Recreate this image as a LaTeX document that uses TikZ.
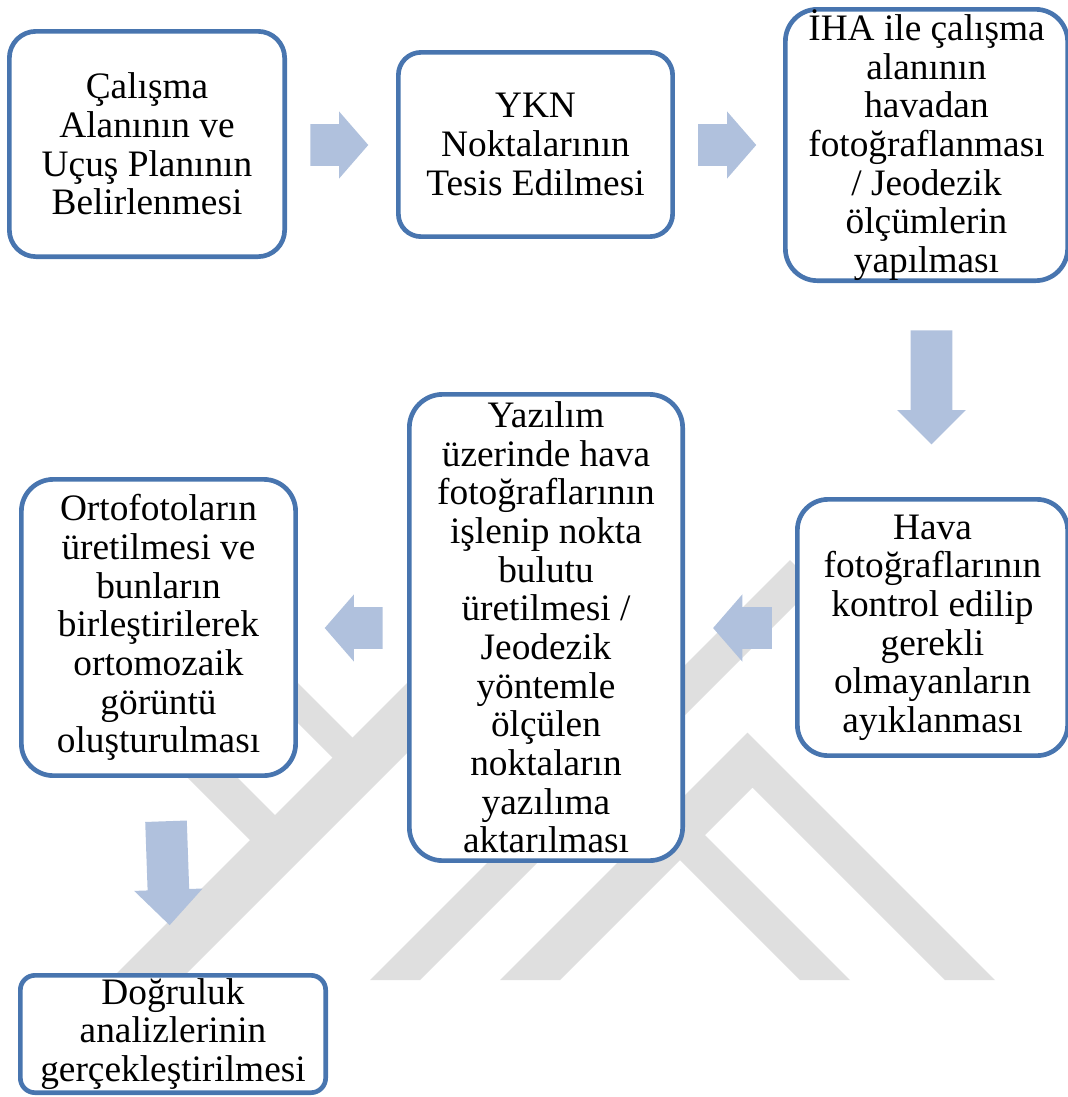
\documentclass[tikz,border=0pt]{standalone}
\usepackage{fontspec}
\setmainfont{Liberation Serif}
\usetikzlibrary{calc, shapes.arrows}

\definecolor{boxline}{RGB}{72,117,175}
\definecolor{arrowfill}{RGB}{176,193,221}
\definecolor{markgray}{RGB}{223,223,223}

\tikzset{
    stage/.style={draw=boxline, line width=3.5pt, fill=white, rounded corners=20pt,
        align=center, inner sep=0pt, font=\fontsize{28}{29}\selectfont},
    blockarrow/.style={single arrow, fill=arrowfill, draw=none, inner xsep=0pt, inner ysep=15.4pt,
        minimum width=50pt, single arrow head extend=9.6pt, single arrow tip angle=98, anchor=tail},
    watermark/.style={fill=markgray, draw=none}
}

\begin{document}
\begin{tikzpicture}[x=0.75pt, y=-0.75pt]
            \useasboundingbox (0,0) rectangle (1068,1097);

            % background watermark stripes
            \fill[watermark] (110,980) -- (180,980) -- (490,670) -- (455,635) -- cycle;
            \fill[watermark] (295,680) -- (370,755) -- (350,775) -- (255,680) -- cycle;
            \fill[watermark] (220,760) -- (292.5,832.5) -- (267.5,857.5) -- (170,760) -- cycle;
            \fill[watermark] (370,980) -- (420,980) -- (815,585) -- (790,560) -- cycle;
            \fill[watermark] (500,980) -- (747.5,732.5) -- (995,980) -- (945,980)
                -- (752.5,787.5) -- (560,980) -- cycle;
            \fill[watermark] (622.5,752.5) -- (850,980) -- (800,980) -- (597.5,777.5) -- cycle;

            % process steps
            \node[stage, minimum width=206.5pt, minimum height=169pt] (b1) at (147,144)
                {Çalışma\\Alanının ve\\Uçuş Planının\\Belirlenmesi};
            \node[stage, minimum width=205.7pt, minimum height=138.2pt, rounded corners=17pt] (b2) at (535.5,144.5)
                {YKN\\Noktalarının\\Tesis Edilmesi};
            \node[stage, minimum width=211.7pt, minimum height=203.5pt, rounded corners=24pt] (b3) at (926.5,145)
                {İHA ile çalışma\\alanının\\havadan\\fotoğraflanması\\/ Jeodezik\\ölçümlerin\\yapılması};
            \node[stage, minimum width=202.7pt, minimum height=192.2pt, rounded corners=23pt] (b4) at (932.5,627.5)
                {Hava\\fotoğraflarının\\kontrol edilip\\gerekli\\olmayanların\\ayıklanması};
            \node[stage, minimum width=205pt, minimum height=349.7pt, rounded corners=25pt] (b5) at (546,627.5)
                {Yazılım\\üzerinde hava\\fotoğraflarının\\işlenip nokta\\bulutu\\üretilmesi /\\Jeodezik\\yöntemle\\ölçülen\\noktaların\\yazılıma\\aktarılması};
            \node[stage, minimum width=205.7pt, minimum height=222.2pt, rounded corners=24pt] (b6) at (158.5,627.5)
                {Ortofotoların\\üretilmesi ve\\bunların\\birleştirilerek\\ortomozaik\\görüntü\\oluşturulması};
            \node[stage, minimum width=229pt, minimum height=88pt, rounded corners=11pt] (b7) at (173,1034)
                {Doğruluk\\analizlerinin\\gerçekleştirilmesi};

            % flow arrows (placed by their tails)
            \node[blockarrow, minimum height=43.5pt] (a12) at ($(b1.east)+(23,1)$) {};
            \node[blockarrow, minimum height=43.5pt] (a23) at ($(b2.east)+(23,0.5)$) {};
            \node[blockarrow, minimum height=85.5pt, minimum width=51pt, single arrow head extend=10.1pt,
                single arrow tip angle=90, rotate=-90] (a34) at ($(b3.south)+(5,47)$) {};
            \node[blockarrow, minimum height=44pt, rotate=180] (a45) at ($(b4.west)+(-23,0.5)$) {};
            \node[blockarrow, minimum height=43.5pt, rotate=180] (a56) at ($(b5.west)+(-24,0.5)$) {};
            \node[blockarrow, minimum height=78pt, minimum width=51pt, single arrow head extend=10.1pt,
                single arrow tip angle=88, rotate=-88] (a67) at ($(b6.south)+(7.5,43)$) {};
        \end{tikzpicture}
\end{document}
